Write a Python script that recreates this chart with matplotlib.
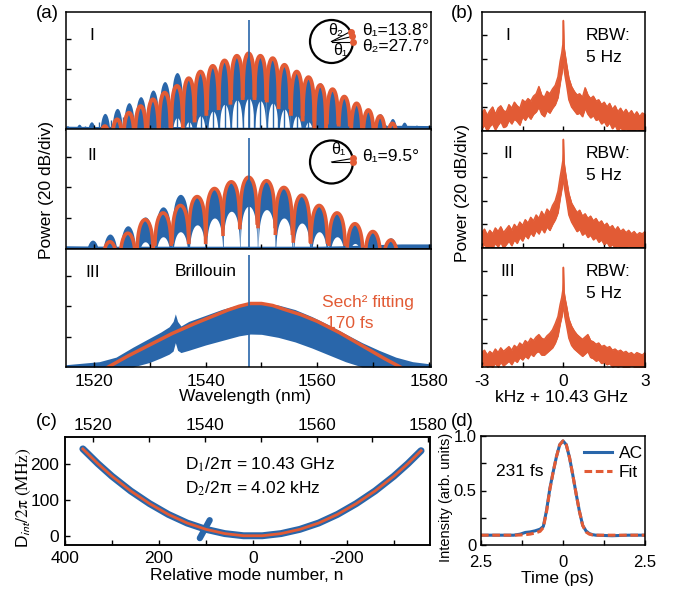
import numpy as np
import matplotlib
matplotlib.use('Agg')
import matplotlib.pyplot as plt
from matplotlib.patches import Circle

plt.rcParams['font.family'] = ['Liberation Sans', 'DejaVu Sans']
plt.rcParams['mathtext.fontset'] = 'stix'
plt.rcParams['axes.unicode_minus'] = False
plt.rcParams['font.size'] = 12.5

BLUE = '#2966aa'
ORANGE = '#e25b35'

# ---- (a) optical spectra, dB above the plot floor ----
a_floor_nm = [1515, 1520, 1525, 1530, 1535, 1540, 1545, 1550, 1555, 1560, 1565, 1570, 1575, 1580.3]
a1_floor_db = [2.2, 2.0, 2.2, 1.8, 2.0, 1.5, 1.5, 1.5, 1.5, 1.8, 2.2, 2.4, 2.8, 2.6]
a2_floor_db = [1.8, 1.6, 1.5, 1.5, 1.5, 1.5, 1.5, 1.5, 1.5, 1.5, 1.8, 2.5, 3.0, 3.0]

a1_width = 2.14
a1_blue_nm = [1515.3, 1517.4, 1519.6, 1522.0, 1524.2, 1526.3, 1528.4, 1530.6, 1532.7, 1534.9,
              1537.0, 1539.1, 1541.3, 1543.4, 1545.6, 1547.7, 1549.8, 1552.0, 1554.1, 1556.3,
              1558.4, 1560.5, 1562.7, 1564.8, 1567.0, 1569.1, 1571.2, 1573.4, 1575.5, 1577.7]
a1_blue_db = [2.5, 3.5, 5.1, 10.7, 14.0, 17.8, 21.8, 26.2, 31.8, 37.8,
              35.1, 39.1, 42.2, 46.7, 49.6, 50.7, 49.0, 47.5, 43.5, 39.0,
              35.0, 31.0, 27.5, 23.0, 18.0, 14.0, 10.5, 7.3, 4.9, 2.9]
a1_fit_nm = a1_blue_nm[3:28]
a1_fit_db = [2.2, 6.7, 11.1, 15.5, 20.0, 24.4, 28.9, 34.0, 38.4, 42.2, 45.8, 48.9, 50.5,
             48.9, 47.3, 42.9, 38.4, 34.7, 29.5, 26.7, 21.8, 17.3, 12.9, 8.9, 4.0]

a2_width = 3.1
a2_blue_nm = [1519.8, 1522.9, 1526.1, 1529.2, 1532.4, 1535.5, 1538.5, 1541.6, 1544.6,
              1547.7, 1550.9, 1554.0, 1557.2, 1560.3, 1563.5, 1566.7, 1569.9, 1573.1]
a2_blue_hi = [5.5, 9.5, 14.9, 20.7, 27.3, 35.5, 34.4, 39.3, 43.7,
              46.7, 44.4, 40.0, 34.9, 28.2, 23.3, 16.2, 11.1, 7.0]
a2_blue_lo = [0, 0, 0, 4.4, 7.7, 11.0, 15.5, 20.0, 24.4,
              27.7, 25.5, 20.0, 16.7, 11.0, 7.7, 3.3, 0, 0]
a2_fit_nm = a2_blue_nm[1:]
a2_fit_db = [4.4, 10.0, 18.9, 23.3, 28.2, 34.0, 39.3, 43.7,
             46.7, 44.4, 40.0, 34.9, 28.2, 23.3, 16.2, 11.1, 5.5]

a3_nm = [1515, 1518, 1521, 1524, 1527, 1530, 1532, 1533.5, 1534.2, 1534.6, 1535.0, 1535.6,
         1537, 1540, 1543, 1546, 1548, 1550, 1553, 1556, 1559, 1562, 1565, 1568, 1571,
         1574, 1577, 1580.3]
a3_hi = [1.5, 2.5, 3.5, 6.5, 13.0, 19.0, 23.0, 26.5, 30.0, 35.0, 30.0, 27.0,
         30.0, 34.0, 38.0, 41.0, 42.2, 42.2, 40.8, 37.8, 33.2, 27.8, 21.8, 16.0, 11.0,
         6.5, 3.5, 2.0]
a3_lo = [0, 0, 0, 0, 0, 3.0, 6.0, 8.5, 10.5, 16.0, 11.0, 9.5,
         11.0, 14.5, 17.5, 20.5, 21.7, 21.5, 19.5, 16.5, 12.5, 8.0, 3.5, 0, 0,
         0, 0, 0]
a3_fit_nm = [1522.6, 1526, 1530, 1534, 1538, 1541, 1544, 1546, 1548, 1550, 1552, 1554,
             1557, 1560, 1564, 1568, 1572, 1574.8]
a3_fit_db = [0, 7.0, 14.5, 22.0, 28.5, 33.0, 37.5, 40.0, 41.8, 41.8, 40.5, 38.0,
             34.5, 30.0, 22.5, 14.0, 5.5, 0]

pump_nm = 1547.7
pump_db = [72.4, 72.2, 74.0]

# ---- (b) repetition-rate beat notes, dB ----
bx = [-3.0, -2.9, -2.8, -2.7, -2.6, -2.5, -2.4, -2.3, -2.2, -2.1, -2.0, -1.9, -1.8, -1.7,
      -1.6, -1.5, -1.4, -1.3, -1.2, -1.1, -1.0, -0.9, -0.8, -0.7, -0.6, -0.5, -0.4,
      -0.3, -0.2, -0.12, -0.06, -0.02, 0.0, 0.02, 0.06, 0.12, 0.2, 0.3,
      0.4, 0.5, 0.6, 0.7, 0.8, 0.9, 1.0, 1.1, 1.2, 1.3, 1.4, 1.5, 1.6, 1.7,
      1.8, 1.9, 2.0, 2.1, 2.2, 2.3, 2.4, 2.5, 2.6, 2.7, 2.8, 2.9, 3.0]
b1_hi = [15, 18, 13, 17, 20, 14, 19, 21, 17, 16, 22, 19, 24, 21, 19, 26, 24, 27, 25, 29, 31, 37, 30, 28, 33, 31, 35,
         38, 45, 58, 65, 72, 92, 70, 64, 55, 44, 37,
         33, 30, 31, 28, 36, 30, 27, 29, 25, 26, 22, 24, 20, 23, 18, 21, 16, 19, 15, 18, 14, 17, 13, 16, 12, 15, 14]
b1_lo = [2, 5, 0, 4, 6, 1, 5, 8, 3, 4, 9, 6, 10, 8, 5, 12, 9, 13, 10, 14, 16, 20, 14, 12, 17, 15, 19,
         22, 28, 40, 48, 55, 60, 52, 46, 38, 26, 20,
         17, 14, 15, 12, 19, 14, 11, 13, 9, 10, 6, 8, 4, 7, 2, 5, 0, 3, 0, 2, 0, 1, 0, 2, 0, 1, 0]
b2_hi = [13, 16, 11, 15, 12, 17, 14, 18, 13, 16, 19, 15, 20, 17, 22, 19, 24, 21, 26, 23, 28, 25, 31, 27, 33, 30, 36,
         40, 48, 60, 68, 74, 92, 73, 66, 57, 46, 38,
         34, 30, 32, 27, 29, 25, 27, 23, 25, 21, 23, 19, 21, 17, 19, 15, 18, 14, 16, 13, 15, 12, 14, 11, 13, 12, 14]
b2_lo = [0, 3, 0, 2, 0, 4, 1, 5, 0, 3, 6, 2, 7, 4, 9, 6, 11, 8, 13, 10, 15, 12, 17, 13, 18, 15, 20,
         24, 30, 42, 50, 56, 62, 54, 48, 40, 28, 22,
         18, 14, 16, 11, 13, 9, 11, 7, 9, 5, 7, 3, 5, 1, 3, 0, 2, 0, 1, 0, 2, 0, 1, 0, 0, 1, 0]
b3_hi = [12, 14, 10, 13, 11, 15, 12, 16, 13, 15, 17, 14, 18, 16, 20, 18, 22, 20, 24, 22, 25, 27, 24, 23, 26, 28, 31,
         36, 42, 52, 58, 64, 83, 63, 57, 50, 40, 34,
         30, 27, 25, 23, 25, 27, 22, 21, 19, 20, 17, 18, 16, 17, 14, 15, 13, 14, 12, 13, 11, 12, 10, 12, 11, 10, 12]
b3_lo = [0, 2, 0, 1, 0, 3, 0, 4, 1, 3, 5, 2, 6, 4, 8, 6, 9, 7, 11, 9, 12, 13, 10, 10, 12, 14, 16,
         20, 26, 36, 42, 48, 55, 47, 41, 34, 24, 18,
         15, 13, 11, 9, 11, 13, 8, 7, 5, 6, 3, 4, 2, 3, 0, 1, 0, 1, 0, 0, 0, 1, 0, 0, 0, 0, 0]

# ---- (c) integrated dispersion ----
c_n = [362, 330, 300, 260, 220, 180, 140, 100, 60, 20, -20, -60, -100, -140, -180, -220, -260, -300, -330, -358]
c_dint = [242, 201, 166, 125, 90, 60, 36, 18.5, 6.7, 0.7, 0.7, 6.7, 18.5, 36, 60, 90, 125, 166, 201, 237]
c_cross_n = [113, 92]
c_cross_dint = [-6, 44]

# ---- (d) autocorrelation ----
d_t = [-2.5, -2.0, -1.5, -1.3, -1.15, -1.0, -0.85, -0.7, -0.6, -0.5, -0.4, -0.3, -0.2, -0.1, 0.0,
       0.1, 0.2, 0.3, 0.4, 0.5, 0.6, 0.7, 0.8, 0.9, 1.0, 1.5, 2.0, 2.5]
d_ac = [0.09, 0.09, 0.09, 0.1, 0.115, 0.12, 0.13, 0.145, 0.17, 0.32, 0.52, 0.67, 0.81, 0.92, 0.955,
        0.92, 0.8, 0.64, 0.47, 0.31, 0.18, 0.13, 0.105, 0.095, 0.09, 0.085, 0.09, 0.09]
d_fit = [0.09, 0.09, 0.09, 0.092, 0.095, 0.1, 0.11, 0.125, 0.16, 0.31, 0.51, 0.67, 0.81, 0.92, 0.955,
         0.92, 0.8, 0.64, 0.47, 0.31, 0.18, 0.12, 0.1, 0.092, 0.09, 0.09, 0.09, 0.09]

W, H = 674, 593
fig = plt.figure(figsize=(W / 100, H / 100), dpi=100)


def px_axes(l, t, r, b):
    return fig.add_axes([l / W, 1 - b / H, (r - l) / W, (b - t) / H])


def px_text(x, y, s, **kw):
    return fig.text(x / W, 1 - y / H, s, **kw)


def style(ax, size=12.5):
    for sp in ax.spines.values():
        sp.set_linewidth(1.1)
        sp.set_zorder(5)
    ax.tick_params(which='both', direction='in', length=3.5, width=1.0, labelsize=size, pad=4)


def lobe(x, c, w, peak):
    s = np.sin(np.pi * ((x - c) / w + 0.5))
    return np.maximum(peak + 20 * np.log10(np.clip(s, 1e-9, None)), 0)


# (a) three spectra
a_rows = [(12, 129.5), (129.5, 248.5), (248.5, 367)]
axa = [px_axes(65.7, t, 431, b) for t, b in a_rows]
for i, ax in enumerate(axa):
    style(ax)
    ax.set_xlim(1515, 1580.3)
    ax.set_ylim(0, 78)
    ax.set_yticks([20, 40, 60])
    ax.set_yticklabels([])
    ax.set_xticks(range(1520, 1581, 10))
    if i < 2:
        ax.set_xticklabels([])
    else:
        ax.set_xticklabels([str(v) if v % 20 == 0 else '' for v in range(1520, 1581, 10)])
    ax.tick_params(axis='x', pad=5)

ax = axa[0]
ax.fill_between(a_floor_nm, 0, a1_floor_db, color=BLUE, lw=0)
for c, h in zip(a1_blue_nm, a1_blue_db):
    x = np.linspace(c - a1_width / 2, c + a1_width / 2, 80)
    ax.fill_between(x, lobe(x, c, a1_width, h - 30), lobe(x, c, a1_width, h), color=BLUE, lw=0)
    ax.vlines([c - a1_width / 2, c], 0, h * 0.45, color=BLUE, lw=1.0)
for c, h in zip(a1_fit_nm, a1_fit_db):
    x = np.linspace(c - a1_width / 2, c + a1_width / 2, 80)
    y = lobe(x, c, a1_width, h)
    y[y <= 0.2] = np.nan
    ax.plot(x, y, color=ORANGE, lw=2.8)
ax.vlines(pump_nm, 0, pump_db[0], color=BLUE, lw=1.2)

ax = axa[1]
ax.fill_between(a_floor_nm, 0, a2_floor_db, color=BLUE, lw=0)
for c, hi, lo in zip(a2_blue_nm, a2_blue_hi, a2_blue_lo):
    x = np.linspace(c - a2_width / 2, c + a2_width / 2, 100)
    lower = lobe(x, c, a2_width, lo) if lo > 0 else np.zeros_like(x)
    ax.fill_between(x, lower, lobe(x, c, a2_width, hi), color=BLUE, lw=0)
for c, h in zip(a2_fit_nm, a2_fit_db):
    x = np.linspace(c - a2_width / 2, c + a2_width / 2, 100)
    y = lobe(x, c, a2_width, h)
    y[y <= 0.2] = np.nan
    ax.plot(x, y, color=ORANGE, lw=2.6)
ax.vlines(pump_nm, 0, pump_db[1], color=BLUE, lw=1.2)

ax = axa[2]
ax.fill_between(a3_nm, a3_lo, a3_hi, color=BLUE, lw=0)
ax.plot(a3_fit_nm, a3_fit_db, color=ORANGE, lw=2.5)
ax.vlines(pump_nm, 0, pump_db[2], color=BLUE, lw=1.2)

px_text(92, 35, 'I', ha='center', va='center', fontsize=12.5)
px_text(92, 155, 'II', ha='center', va='center', fontsize=12.5)
px_text(92.5, 273, 'III', ha='center', va='center', fontsize=12.5)
px_text(206, 271, 'Brillouin', ha='center', va='center', fontsize=12.5)
px_text(368, 303, 'Sech² fitting', ha='center', va='center', fontsize=12.5, color=ORANGE)
px_text(350, 324, '170 fs', ha='center', va='center', fontsize=12.5, color=ORANGE)
px_text(47, 190, 'Power (20 dB/div)', ha='center', va='center', rotation=90, fontsize=12.5)
px_text(245, 397, 'Wavelength (nm)', ha='center', va='center', fontsize=12.5)


# circle insets with the soliton positions
def ring(cx, cy, angles, labels):
    r = 21.5
    half = 32
    ia = px_axes(cx - half, cy - half, cx + half, cy + half)
    ia.set_xlim(-half / r, half / r)
    ia.set_ylim(-half / r, half / r)
    ia.axis('off')
    ia.add_patch(Circle((0, 0), 1, fill=False, ec='black', lw=1.6))
    for a in angles:
        t = np.deg2rad(a)
        ia.plot([0, np.cos(t)], [0, np.sin(t)], color='black', lw=0.8)
        ia.plot(np.cos(t), np.sin(t), 'o', color=ORANGE, ms=5, mec='none')
    for (x, y), s in labels:
        ia.text(x, y, s, ha='center', va='center', fontsize=11.5)


ring(331.5, 41.5, [0, 13.8, 27.7], [((0.2, 0.52), 'θ₂'), ((0.42, -0.42), 'θ₁')])
ring(331.5, 162, [0, 9.5], [((0.3, 0.6), 'θ₁')])
px_text(361.7, 31, 'θ₁=13.8°', ha='left', va='center', fontsize=12.5)
px_text(361.7, 47, 'θ₂=27.7°', ha='left', va='center', fontsize=12.5)
px_text(361.7, 157, 'θ₁=9.5°', ha='left', va='center', fontsize=12.5)

# (b) beat notes
b_rows = [(12, 131), (131, 248), (248, 367)]
b_traces = [(b1_lo, b1_hi), (b2_lo, b2_hi), (b3_lo, b3_hi)]
b_names = ['I', 'II', 'III']
for (t, b), (lo, hi), name in zip(b_rows, b_traces, b_names):
    ax = px_axes(481.7, t, 645, b)
    style(ax)
    ax.set_xlim(-3, 3)
    ax.set_ylim(0, 99)
    ax.set_yticks([20, 40, 60, 80])
    ax.set_yticklabels([])
    ax.set_xticks([-3, 0, 3])
    ax.set_xticks([-1.5, 1.5], minor=True)
    ax.fill_between(bx, lo, hi, color=ORANGE, lw=0.6)
    ax.plot(bx, hi, color=ORANGE, lw=1.0)
    ax.plot(bx, lo, color=ORANGE, lw=1.0)
    if name != 'III':
        ax.set_xticklabels([])
    else:
        ax.tick_params(axis='x', pad=5)
    yc = t + 23
    px_text(508, yc, name, ha='center', va='center', fontsize=12.5)
    px_text(586, yc, 'RBW:', ha='left', va='center', fontsize=12.5)
    px_text(586, yc + 22, '5 Hz', ha='left', va='center', fontsize=12.5)
px_text(463, 193, 'Power (20 dB/div)', ha='center', va='center', rotation=90, fontsize=12.5)
px_text(562, 397, 'kHz + 10.43 GHz', ha='center', va='center', fontsize=12.5)

# (c) integrated dispersion
axc = px_axes(65, 437, 430, 545)
style(axc)
axc.set_xlim(400, -377)
axc.set_ylim(-25, 275)
axc.set_xticks([400, 200, 0, -200])
axc.set_xticks([300, 100, -100, -300], minor=True)
axc.set_yticks([0, 100, 200])
axc.plot(c_n, c_dint, color=BLUE, lw=5, solid_capstyle='round')
axc.plot(c_cross_n, c_cross_dint, color=BLUE, lw=4.5, solid_capstyle='round')
axc.plot(c_n, c_dint, color=ORANGE, lw=2)
axt = axc.twiny()
style(axt)
axt.set_xlim(1515, 1580.3)
axt.set_xticks(range(1520, 1581, 20))
axt.set_xticks(range(1530, 1581, 20), minor=True)
axt.tick_params(axis='x', pad=3)
px_text(185, 465, r'D$_1$/2π = 10.43 GHz', ha='left', va='center', fontsize=12.5)
px_text(185, 489, r'D$_2$/2π = 4.02 kHz', ha='left', va='center', fontsize=12.5)
px_text(24, 498, r'D$_{\mathsf{int}}\mathrm{/2\pi\ (MHz)}$', ha='center', va='center', rotation=90,
        fontsize=12.5)
px_text(247, 576, 'Relative mode number, n', ha='center', va='center', fontsize=12.5)

# (d) autocorrelation
axd = px_axes(481, 436, 645, 545)
style(axd, size=12)
axd.set_xlim(-2.5, 2.5)
axd.set_ylim(0, 1.0)
axd.set_xticks([-2.5, 0, 2.5])
axd.set_xticklabels(['2.5', '0', '2.5'])
axd.set_xticks([-1.25, 1.25], minor=True)
axd.set_yticks([0, 0.5, 1.0])
axd.set_yticklabels(['0', '0.5', '1.0'])
axd.set_yticks([0.25, 0.75], minor=True)
axd.tick_params(axis='y', pad=3)
axd.tick_params(axis='x', pad=7)
axd.plot(d_t, d_ac, color=BLUE, lw=2.2, label='AC')
axd.plot(d_t, d_fit, color=ORANGE, lw=2.2, ls=(0, (2.5, 1.2)), label='Fit')
axd.legend(loc='upper right', bbox_to_anchor=(1.03, 0.97), frameon=False, fontsize=12.5,
           handlelength=1.6, handletextpad=0.4, borderaxespad=0, labelspacing=0.2)
px_text(520, 472, '231 fs', ha='center', va='center', fontsize=12.5)
px_text(446, 497, 'Intensity (arb. units)', ha='center', va='center', rotation=90, fontsize=10.5)
px_text(557, 578, 'Time (ps)', ha='center', va='center', fontsize=12.5)

# panel tags
px_text(47, 13, '(a)', ha='center', va='center', fontsize=13.5)
px_text(462, 13, '(b)', ha='center', va='center', fontsize=13.5)
px_text(47, 422, '(c)', ha='center', va='center', fontsize=13.5)
px_text(462, 421, '(d)', ha='center', va='center', fontsize=13.5)

fig.savefig('out.png', dpi=100)
